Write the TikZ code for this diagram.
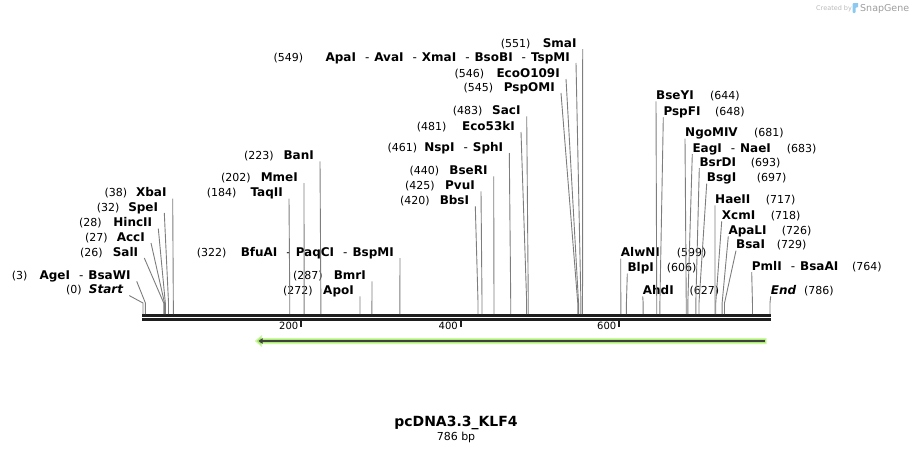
\documentclass[tikz,border=0pt]{standalone}
\usepackage{fontspec}
\setmainfont{DejaVu Sans}
\usetikzlibrary{arrows.meta}

\definecolor{cutgray}{RGB}{125,125,125}
\definecolor{seqblack}{RGB}{30,30,30}
\definecolor{featgreen}{RGB}{168,236,104}
\definecolor{featedge}{RGB}{206,248,170}
\definecolor{featline}{RGB}{64,64,64}
\definecolor{markgray}{RGB}{185,185,185}
\definecolor{markblue}{RGB}{140,200,240}

\newcommand\dashsep{\hspace{9pt}{\mdseries -}\hspace{5pt}}

\begin{document}
\begin{tikzpicture}[x=1pt,y=-1pt,
    enz/.style={font=\fontsize{12}{14}\selectfont\bfseries, inner sep=0pt},
    num/.style={font=\fontsize{11}{13}\selectfont, inner sep=0pt},
    cut/.style={draw=cutgray, line width=0.9pt}]
\useasboundingbox (0,0) rectangle (913,453);

% cut sites: knee above the sequence and point on it
\foreach \n/\b in {Start/0, AgeI/3, SalI/26, AccI/27, HincII/28, SpeI/32, XbaI/38,
    TaqII/184, MmeI/202, BanI/223, ApoI/272, BmrI/287, BfuAI/322,
    BbsI/420, PvuI/425, BseRI/440, NspI/461, Eco53kI/481, SacI/483,
    PspOMI/545, EcoOI/546, ApaI/549, SmaI/551,
    AlwNI/599, BlpI/606, AhdI/627, BseYI/644, PspFI/648, NgoMIV/681,
    EagI/683, BsrDI/693, BsgI/697, HaeII/717, XcmI/718, ApaLI/726,
    BsaI/729, PmlI/764, End/786}
{
    \coordinate (k\n) at ({143+0.7977*\b},303);
    \coordinate (s\n) at ({143+0.7977*\b},314);
}

% sequence
\fill[seqblack] (142,314) rectangle (771,316.7);
\fill[seqblack] (142,317.7) rectangle (771,320.7);
\foreach \t/\x in {200/301,400/460.5,600/619}
{
    \fill[seqblack] (\x-1,320.7) rectangle (\x+1,326.7);
    \node[inner sep=0pt, font=\fontsize{10}{12}\selectfont, anchor=base east] (t\t) at (\x-2.5,329.5) {\t};
}

% labels on the left of their sites
\begin{scope}[every node/.style={enz, anchor=base east}]
    \node (Start) at (123.3,293.6) {\itshape Start};
    \node (AgeI) at (130.7,279.3) {AgeI\dashsep BsaWI};
    \node (SalI) at (138.3,256) {SalI};
    \node (AccI) at (145,241) {AccI};
    \node (HincII) at (152.3,226.6) {HincII};
    \node (SpeI) at (158.3,211) {SpeI};
    \node (XbaI) at (166.7,196.6) {XbaI};
    \node (TaqII) at (283,196.6) {TaqII};
    \node (MmeI) at (298,181) {MmeI};
    \node (BanI) at (314,159.3) {BanI};
    \node (ApoI) at (354,294.3) {ApoI};
    \node (BmrI) at (366,279.3) {BmrI};
    \node (BfuAI) at (394,256) {BfuAI\dashsep PaqCI\dashsep BspMI};
    \node (BbsI) at (469.3,204.3) {BbsI};
    \node (PvuI) at (475,189.3) {PvuI};
    \node (BseRI) at (487.7,174.3) {BseRI};
    \node (NspI) at (503.3,151) {NspI\dashsep SphI};
    \node (Eco53kI) at (515,130) {Eco53kI};
    \node (SacI) at (520.7,114.3) {SacI};
    \node (PspOMI) at (555,91) {PspOMI};
    \node (EcoOI) at (560,77) {EcoO109I};
    \node (ApaI) at (570,61) {ApaI\dashsep AvaI\dashsep XmaI\dashsep BsoBI\dashsep TspMI};
    \node (SmaI) at (576.7,47) {SmaI};
\end{scope}

\begin{scope}[every node/.style={num, anchor=base west}]
    \node (nStart) at (66,293.6) {(0)};
    \node (nAgeI) at (11.7,279.3) {(3)};
    \node (nSalI) at (80,256) {(26)};
    \node (nAccI) at (85,241) {(27)};
    \node (nHincII) at (79,226.6) {(28)};
    \node (nSpeI) at (96.7,211) {(32)};
    \node (nXbaI) at (104.3,196.6) {(38)};
    \node (nTaqII) at (206.7,196.6) {(184)};
    \node (nMmeI) at (221,181) {(202)};
    \node (nBanI) at (244,159.3) {(223)};
    \node (nApoI) at (283,294.3) {(272)};
    \node (nBmrI) at (293,279.3) {(287)};
    \node (nBfuAI) at (196.7,256) {(322)};
    \node (nBbsI) at (400,204.3) {(420)};
    \node (nPvuI) at (405,189.3) {(425)};
    \node (nBseRI) at (409.3,174.3) {(440)};
    \node (nNspI) at (387.3,151) {(461)};
    \node (nEco53kI) at (416.7,130) {(481)};
    \node (nSacI) at (452.7,114.3) {(483)};
    \node (nPspOMI) at (463.3,91) {(545)};
    \node (nEcoOI) at (454.3,77) {(546)};
    \node (nApaI) at (273.3,61) {(549)};
    \node (nSmaI) at (500.7,47) {(551)};
\end{scope}

% labels on the right of their sites
\begin{scope}[every node/.style={enz, anchor=base west}]
    \node (AlwNI) at (620.7,256.6) {AlwNI};
    \node (BlpI) at (627.3,271.6) {BlpI};
    \node (AhdI) at (642.7,294.3) {AhdI};
    \node (BseYI) at (656,99.3) {BseYI};
    \node (PspFI) at (663.3,115.3) {PspFI};
    \node (NgoMIV) at (685,136.6) {NgoMIV};
    \node (EagI) at (692.3,152) {EagI\dashsep NaeI};
    \node (BsrDI) at (699.3,166) {BsrDI};
    \node (BsgI) at (706.7,181.6) {BsgI};
    \node (HaeII) at (715,203.3) {HaeII};
    \node (XcmI) at (721.7,219.3) {XcmI};
    \node (ApaLI) at (728.3,234.3) {ApaLI};
    \node (BsaI) at (736,248.6) {BsaI};
    \node (PmlI) at (751.7,270) {PmlI\dashsep BsaAI};
    \node (End) at (770.7,294.3) {\itshape End};
\end{scope}

\begin{scope}[every node/.style={num, anchor=base west}]
    \node (nAlwNI) at (676.7,256.6) {(599)};
    \node (nBlpI) at (666.7,271.6) {(606)};
    \node (nAhdI) at (689.3,294.3) {(627)};
    \node (nBseYI) at (710,99.3) {(644)};
    \node (nPspFI) at (715,115.3) {(648)};
    \node (nNgoMIV) at (754,136.6) {(681)};
    \node (nEagI) at (786.7,152) {(683)};
    \node (nBsrDI) at (750.7,166) {(693)};
    \node (nBsgI) at (756.7,181.6) {(697)};
    \node (nHaeII) at (765.7,203.3) {(717)};
    \node (nXcmI) at (770.7,219.3) {(718)};
    \node (nApaLI) at (781.7,234.3) {(726)};
    \node (nBsaI) at (776.7,248.6) {(729)};
    \node (nPmlI) at (852,270) {(764)};
    \node (nEnd) at (804,294.3) {(786)};
\end{scope}

% connectors from labels to cut sites
\foreach \n in {Start, AgeI, SalI, AccI, HincII, SpeI, XbaI, TaqII, MmeI, BanI,
    ApoI, BmrI, BfuAI, BbsI, PvuI, BseRI, NspI, Eco53kI, SacI, PspOMI, EcoOI, ApaI, SmaI}
    \draw[cut] ([xshift=6pt,yshift=-2pt]\n.base east) -- (k\n) -- (s\n);
\foreach \n in {AlwNI, BlpI, AhdI, BseYI, PspFI, NgoMIV, EagI, BsrDI, BsgI,
    HaeII, XcmI, ApaLI, BsaI, PmlI, End}
    \draw[cut] ([yshift=-2pt]\n.base west) -- (k\n) -- (s\n);

% feature arrow
\filldraw[fill=featgreen, draw=featedge, line width=1pt]
    (766.2,338.5) -- (261.7,338.5) -- (261.7,335.8) -- (255.5,341) -- (261.7,346.2)
    -- (261.7,343.5) -- (766.2,343.5) -- cycle;
\draw[featline, line width=2.3pt, -{Triangle[length=4pt,width=5.5pt]}] (764.5,341) -- (258.5,341);

% name and size
\node[inner sep=0pt, font=\fontsize{14}{16}\selectfont\bfseries, anchor=base] (title) at (456,426.7) {pcDNA3.3\_KLF4};
\node[inner sep=0pt, font=\fontsize{11}{13}\selectfont, anchor=base] (size) at (456,440.7) {786 bp};

% watermark
\node[inner sep=0pt, font=\fontsize{6.5}{8}\selectfont, text=markgray, anchor=base west] (created) at (816,10) {Created by};
\fill[markblue, rounded corners=1pt] (852.5,3) rectangle (855.5,13);
\fill[markblue] (855,3) -- (858,3) -- (858,7) -- (855,8) -- cycle;
\node[inner sep=0pt, font=\fontsize{9.5}{11}\selectfont, text=markgray!85!black, anchor=base west] (snapgene) at (860,11) {SnapGene};
\end{tikzpicture}
\end{document}
